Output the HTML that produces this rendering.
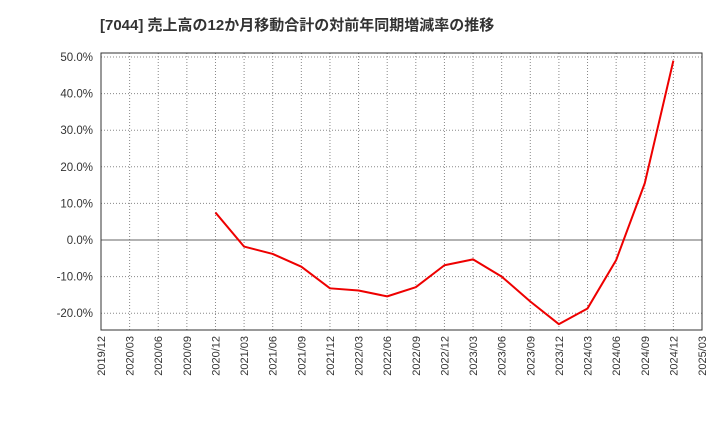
<!DOCTYPE html>
<html><head><meta charset="utf-8"><style>
body{margin:0;background:#fff;}
svg text{font-family:"Liberation Sans","Noto Sans CJK JP",sans-serif;fill:#333;}
</style></head><body>
<svg id="c" width="720" height="440" xmlns="http://www.w3.org/2000/svg">
<text x="100" y="30" font-size="15" font-weight="bold">[7044]  売上高の12か月移動合計の対前年同期増減率の推移</text>
<g id="grid"></g><g id="axes"></g><g id="series"></g>
</svg>
<script>
const categories=["2019/12","2020/03","2020/06","2020/09","2020/12","2021/03","2021/06","2021/09","2021/12","2022/03","2022/06","2022/09","2022/12","2023/03","2023/06","2023/09","2023/12","2024/03","2024/06","2024/09","2024/12","2025/03"];
const values=[null,null,null,null,7.5,-1.8,-3.8,-7.3,-13.2,-13.8,-15.4,-12.9,-6.9,-5.3,-10.0,-16.8,-23.0,-18.7,-5.5,15.5,49.0,null];
const yTicks=[-20,-10,0,10,20,30,40,50];
const yTickLabels=["-20.0%","-10.0%","0.0%","10.0%","20.0%","30.0%","40.0%","50.0%"];
const L=101,R=702,T=53,B=330;
const ns="http://www.w3.org/2000/svg";
function x(i){return L+(R-L)*i/(categories.length-1);}
function y(v){return 240-v*3.66;}
function mk(tag,attrs,parent){const e=document.createElementNS(ns,tag);for(const k in attrs)e.setAttribute(k,attrs[k]);document.getElementById(parent).appendChild(e);return e;}
categories.forEach((c,i)=>{
 const l=mk("line",{x1:x(i),x2:x(i),y1:T,y2:B,stroke:"#888","stroke-dasharray":"1,2"},"grid");
 
 
 const t=mk("text",{x:0,y:0,"font-size":"11","text-anchor":"end",transform:`translate(${x(i)+4},${B+6}) rotate(-90)`},"axes");
 t.textContent=c;
 
 
});
yTicks.forEach((v,i)=>{
 const l=mk("line",{x1:L,x2:R,y1:y(v),y2:y(v),stroke:v===0?"#666":"#888","stroke-dasharray":v===0?"none":"1,2"},"grid");
 
 
 const t=mk("text",{x:L-8,y:y(v)+4,"font-size":"11.5","text-anchor":"end"},"axes");
 t.textContent=yTickLabels[i];
 
 
});
const f=mk("rect",{x:L,y:T,width:R-L,height:B-T,fill:"none",stroke:"#333"},"axes");


let d="";values.forEach((v,i)=>{if(v===null)return;d+=(d?"L":"M")+x(i)+","+y(v);});
const p=mk("path",{d:d,fill:"none",stroke:"#e00",  "stroke-width":"2","stroke-linejoin":"round"},"series");


</script>
</body></html>
